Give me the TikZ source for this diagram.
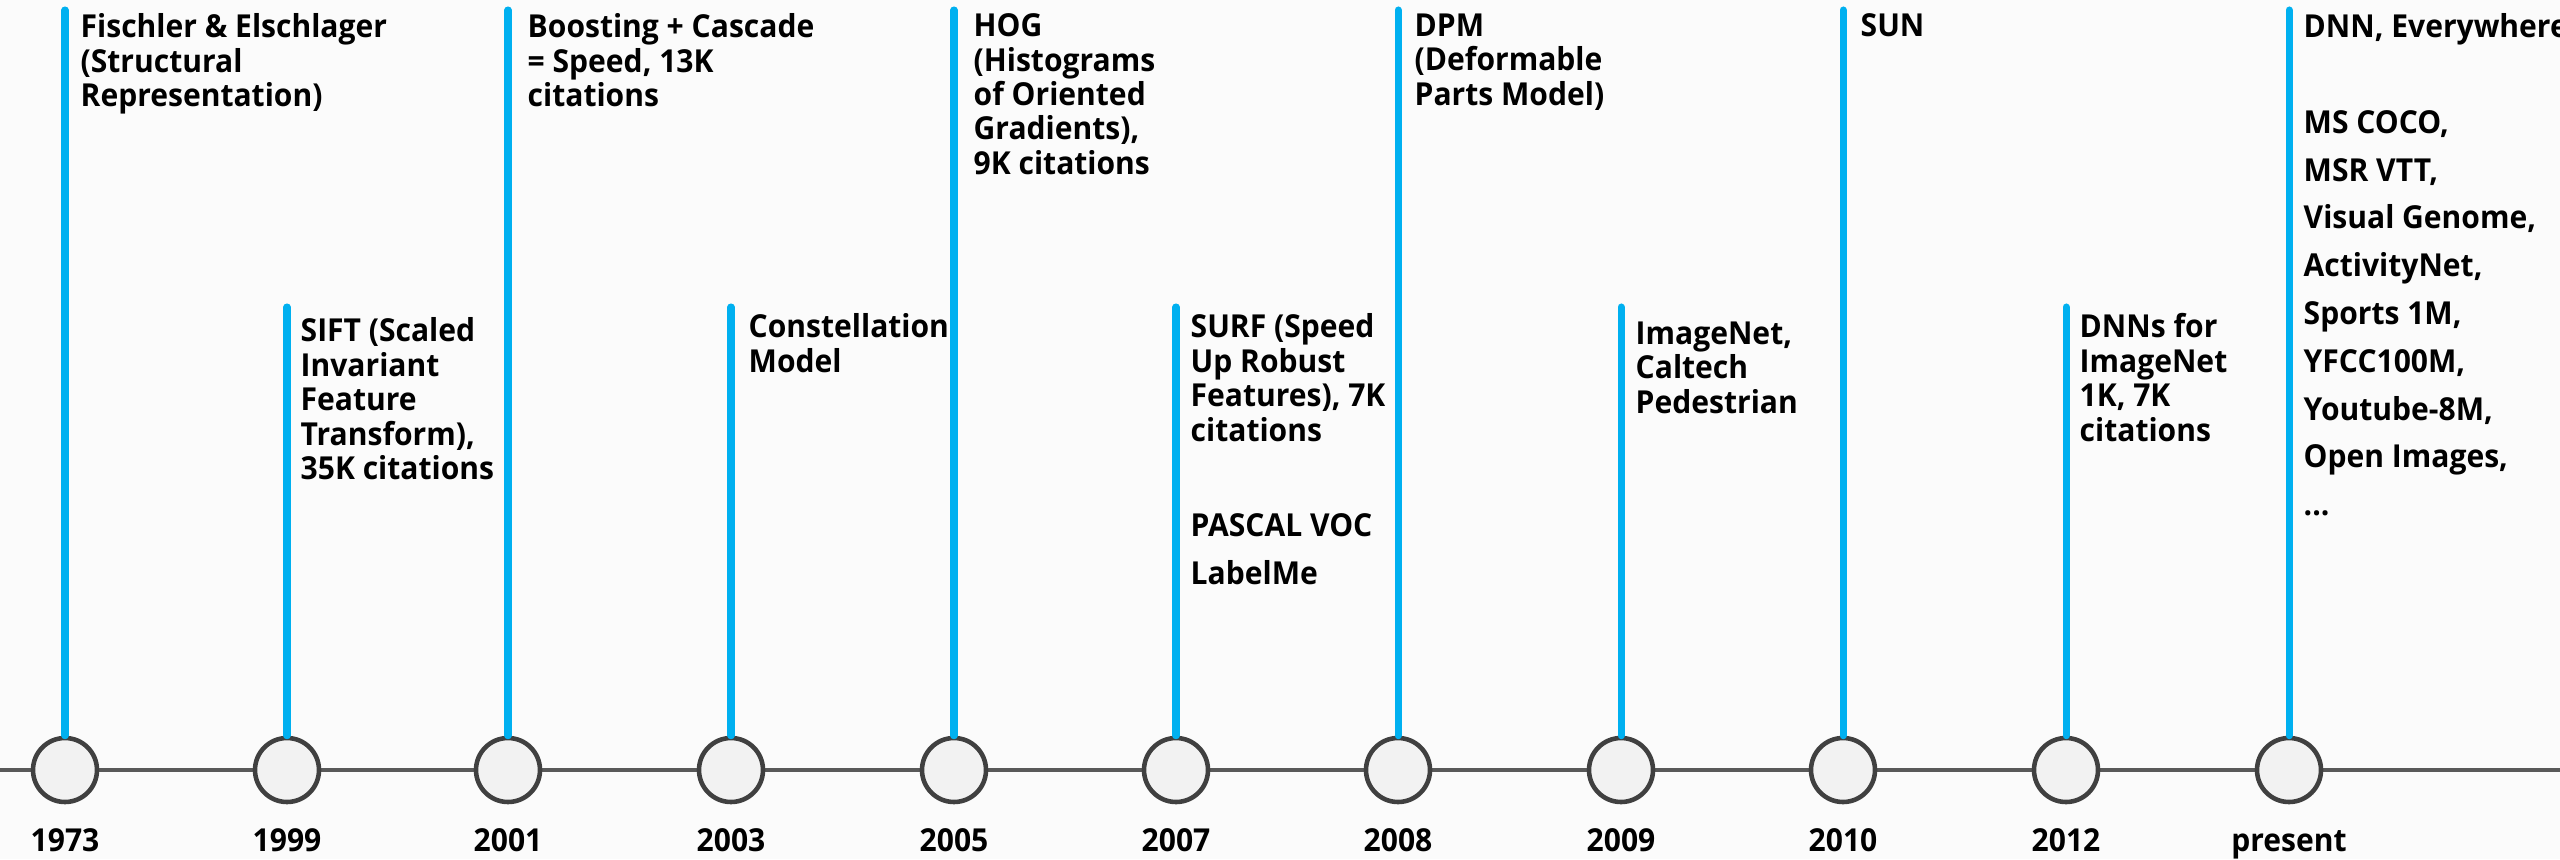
\documentclass[tikz,border=0pt]{standalone}
\usepackage{fontspec}
\setmainfont{Open Sans}[FakeStretch=0.95]
\definecolor{axisgray}{RGB}{89,89,89}
\definecolor{ringgray}{RGB}{64,64,64}
\definecolor{dotfill}{RGB}{242,242,242}
\definecolor{stemblue}{RGB}{0,176,240}
\definecolor{paper}{RGB}{251,251,251}
\tikzstyle{every node}=[font=\bfseries\fontsize{9}{9.8}\selectfont]
\tikzstyle{milestone}=[circle, draw=ringgray, fill=dotfill, line width=1.3pt, minimum size=0.64cm, inner sep=0pt]
\tikzstyle{stemline}=[draw=stemblue, line width=2pt, line cap=round]
\tikzstyle{note}=[anchor=north west, align=left, inner sep=0pt]
\tikzstyle{yearlabel}=[anchor=base, inner sep=0pt]

\begin{document}
\begin{tikzpicture}
            \fill[paper] (0, 0) rectangle (25.6, 8.59);
            \useasboundingbox (0, 0) rectangle (25.6, 8.59);

            % axis
            \coordinate (axisL) at (0, 0.89);
            \coordinate (axisR) at (25.6, 0.89);
            \draw[axisgray, line width=1.1pt] (axisL) -- (axisR);

            % stem tops
            \coordinate (top1973) at (0.65, 8.49);
            \coordinate (top1999) at (2.87, 5.52);
            \coordinate (top2001) at (5.08, 8.49);
            \coordinate (top2003) at (7.31, 5.52);
            \coordinate (top2005) at (9.54, 8.49);
            \coordinate (top2007) at (11.76, 5.52);
            \coordinate (top2008) at (13.98, 8.49);
            \coordinate (top2009) at (16.21, 5.52);
            \coordinate (top2010) at (18.43, 8.49);
            \coordinate (top2012) at (20.66, 5.52);
            \coordinate (toppresent) at (22.89, 8.49);

            % milestones on the axis
            \node[milestone] (c1973) at (0.65, 0.89) {};
            \node[milestone] (c1999) at (2.87, 0.89) {};
            \node[milestone] (c2001) at (5.08, 0.89) {};
            \node[milestone] (c2003) at (7.31, 0.89) {};
            \node[milestone] (c2005) at (9.54, 0.89) {};
            \node[milestone] (c2007) at (11.76, 0.89) {};
            \node[milestone] (c2008) at (13.98, 0.89) {};
            \node[milestone] (c2009) at (16.21, 0.89) {};
            \node[milestone] (c2010) at (18.43, 0.89) {};
            \node[milestone] (c2012) at (20.66, 0.89) {};
            \node[milestone] (cpresent) at (22.89, 0.89) {};

            \draw[stemline] (top1973) -- (c1973.north);
            \draw[stemline] (top1999) -- (c1999.north);
            \draw[stemline] (top2001) -- (c2001.north);
            \draw[stemline] (top2003) -- (c2003.north);
            \draw[stemline] (top2005) -- (c2005.north);
            \draw[stemline] (top2007) -- (c2007.north);
            \draw[stemline] (top2008) -- (c2008.north);
            \draw[stemline] (top2009) -- (c2009.north);
            \draw[stemline] (top2010) -- (c2010.north);
            \draw[stemline] (top2012) -- (c2012.north);
            \draw[stemline] (toppresent) -- (cpresent.north);

            % years
            \node[yearlabel] (y1973) at (0.65, 0.08) {1973};
            \node[yearlabel] (y1999) at (2.87, 0.08) {1999};
            \node[yearlabel] (y2001) at (5.08, 0.08) {2001};
            \node[yearlabel] (y2003) at (7.31, 0.08) {2003};
            \node[yearlabel] (y2005) at (9.54, 0.08) {2005};
            \node[yearlabel] (y2007) at (11.76, 0.08) {2007};
            \node[yearlabel] (y2008) at (13.98, 0.08) {2008};
            \node[yearlabel] (y2009) at (16.21, 0.08) {2009};
            \node[yearlabel] (y2010) at (18.43, 0.08) {2010};
            \node[yearlabel] (y2012) at (20.66, 0.08) {2012};
            \node[yearlabel] (ypresent) at (22.89, 0.08) {present};

            % what happened
            \node[note] (t1973) at (0.80, 8.46)
                {Fischler \& Elschlager\\(Structural\\Representation)};
            \node[note] (t1999) at (3.00, 5.42)
                {SIFT (Scaled\\Invariant\\Feature\\Transform),\\35K citations};
            \node[note] (t2001) at (5.27, 8.46)
                {Boosting + Cascade\\= Speed, 13K\\citations};
            \node[note] (t2003) at (7.48, 5.46)
                {Constellation\\Model};
            \node[note] (t2005) at (9.73, 8.46)
                {HOG\\(Histograms\\of Oriented\\Gradients),\\9K citations};
            \node[note] (t2007) at (11.90, 5.46)
                {SURF (Speed\\Up Robust\\Features), 7K\\citations\\[3.8pt]
                 \mbox{}\\[3.8pt]PASCAL VOC\\[3.8pt]LabelMe};
            \node[note] (t2008) at (14.14, 8.46)
                {DPM\\(Deformable\\Parts Model)};
            \node[note] (t2009) at (16.35, 5.38)
                {ImageNet,\\Caltech\\Pedestrian};
            \node[note] (t2010) at (18.60, 8.46)
                {SUN};
            \node[note] (t2012) at (20.79, 5.46)
                {DNNs for\\ImageNet\\1K, 7K\\citations};
            \node[note] (tpresent) at (23.03, 8.46)
                {DNN, Everywhere\\[3.8pt]\mbox{}\\[3.8pt]MS COCO,\\[3.8pt]MSR VTT,\\[3.8pt]
                 Visual Genome,\\[3.8pt]ActivityNet,\\[3.8pt]Sports 1M,\\[3.8pt]
                 YFCC100M,\\[3.8pt]Youtube-8M,\\[3.8pt]Open Images,\\[3.8pt]...};
        \end{tikzpicture}
\end{document}
